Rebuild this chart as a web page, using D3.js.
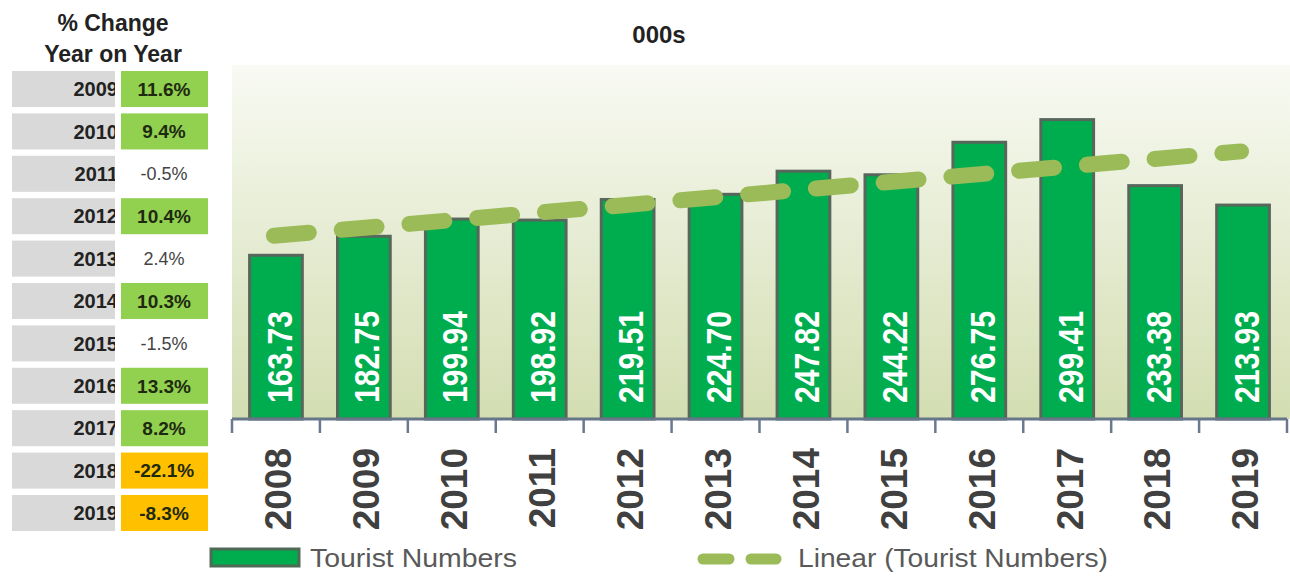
<!DOCTYPE html>
<html>
<head>
<meta charset="utf-8">
<script src="https://cdn.jsdelivr.net/npm/d3@7"></script>
<style>
  html, body { margin: 0; padding: 0; background: #fff; }
  svg { display: block; font-family: "Liberation Sans", Arial, sans-serif; }
</style>
</head>
<body>
<svg id="chart" width="1290" height="578"></svg>
<script>
// tourist numbers (000s)
var years = ["2008", "2009", "2010", "2011", "2012", "2013", "2014", "2015", "2016", "2017", "2018", "2019"];
var tourists = [163.73, 182.75, 199.94, 198.92, 219.51, 224.70, 247.82, 244.22, 276.75, 299.41, 233.38, 213.93];
// linear trend at first and last year
var trendYears = ["2008", "2019"];
var trendValues = [183.3, 267.6];
// % change year on year table
var changeYears = ["2009", "2010", "2011", "2012", "2013", "2014", "2015", "2016", "2017", "2018", "2019"];
var changePct = [11.6, 9.4, -0.5, 10.4, 2.4, 10.3, -1.5, 13.3, 8.2, -22.1, -8.3];

var svg = d3.select("#chart");

// ---------- left table ----------
var table = svg.append("g");
var rowScale = d3.scaleBand().domain(changeYears).range([71, 531]).paddingInner(0.15);

table.append("text")
    .attr("x", 113).attr("y", 31)
    .attr("text-anchor", "middle")
    .attr("font-weight", "bold").attr("font-size", 23)
    .attr("fill", "#222")
    .text("% Change");
table.append("text")
    .attr("x", 113).attr("y", 62)
    .attr("text-anchor", "middle")
    .attr("font-weight", "bold").attr("font-size", 23)
    .attr("fill", "#222")
    .text("Year on Year");

svg.append("clipPath").attr("id", "yearclip")
    .append("rect").attr("x", 12).attr("y", 60).attr("width", 103).attr("height", 480);

function cellColor(v) {
    if (v >= 5) return "#92d050";
    if (v <= -5) return "#ffc000";
    return "none";
}

var rowData = changeYears.map(function(y, i) { return {year: y, pct: changePct[i]}; });

// grey year cells
table.selectAll("rect.yr")
    .data(rowData)
    .enter().append("rect")
    .attr("class", "yr")
    .attr("x", 12).attr("width", 103)
    .attr("y", function(d) { return rowScale(d.year); })
    .attr("height", rowScale.bandwidth())
    .attr("fill", "#d9d9d9");
table.selectAll("text.yr")
    .data(rowData)
    .enter().append("text")
    .attr("class", "yr")
    .attr("x", 118)
    .attr("y", function(d) { return rowScale(d.year) + rowScale.bandwidth() / 2; })
    .attr("dy", "0.36em")
    .attr("text-anchor", "end")
    .attr("clip-path", "url(#yearclip)")
    .attr("font-weight", "bold").attr("font-size", 20)
    .attr("fill", "#222")
    .text(function(d) { return d.year; });

// % change cells
table.selectAll("rect.pc")
    .data(rowData)
    .enter().append("rect")
    .attr("class", "pc")
    .attr("x", 121).attr("width", 87)
    .attr("y", function(d) { return rowScale(d.year); })
    .attr("height", rowScale.bandwidth())
    .attr("fill", function(d) { return cellColor(d.pct); });
table.selectAll("text.pc")
    .data(rowData)
    .enter().append("text")
    .attr("class", "pc")
    .attr("x", 164)
    .attr("y", function(d) { return rowScale(d.year) + rowScale.bandwidth() / 2; })
    .attr("dy", "0.36em")
    .attr("text-anchor", "middle")
    .attr("font-weight", function(d) { return cellColor(d.pct) == "none" ? "normal" : "bold"; })
    .attr("font-size", function(d) { return cellColor(d.pct) == "none" ? 18 : 19; })
    .attr("fill", function(d) { return cellColor(d.pct) == "none" ? "#444" : "#1e2a10"; })
    .text(function(d) { return d.pct.toFixed(1) + "%"; });

// ---------- bar chart ----------
var x = d3.scaleBand().domain(years).range([232, 1287]).paddingInner(0.4).paddingOuter(0.2);
var y = d3.scaleLinear().domain([0, 354]).range([419, 65]);

var defs = svg.append("defs");
var grad = defs.append("linearGradient").attr("id", "plotbg")
    .attr("x1", 0).attr("y1", 0).attr("x2", 0).attr("y2", 1);
grad.append("stop").attr("offset", "0%").attr("stop-color", "#f8faf3");
grad.append("stop").attr("offset", "100%").attr("stop-color", "#d3ddb1");

svg.append("rect")
    .attr("x", 232).attr("y", y(354))
    .attr("width", 1290 - 232).attr("height", y(0) - y(354))
    .attr("fill", "url(#plotbg)");

svg.append("text")
    .attr("x", 659).attr("y", 43)
    .attr("text-anchor", "middle")
    .attr("font-weight", "bold").attr("font-size", 24)
    .attr("fill", "#222")
    .text("000s");

var bars = svg.append("g");
bars.selectAll("rect")
    .data(tourists)
    .enter().append("rect")
    .attr("x", function(d, i) { return x(years[i]); })
    .attr("y", function(d) { return y(d); })
    .attr("width", x.bandwidth())
    .attr("height", function(d) { return y(0) - y(d); })
    .attr("fill", "#00ad4e")
    .attr("stroke", "#57675c")
    .attr("stroke-width", 3);

// value labels, squeezed along the reading direction
bars.selectAll("text")
    .data(tourists)
    .enter().append("text")
    .attr("transform", function(d, i) {
        return "translate(" + (x(years[i]) + x.bandwidth() / 2 + 3) + "," + (y(0) - 16) + ") rotate(-90) scale(0.86,1)";
    })
    .attr("dy", "0.36em")
    .attr("text-anchor", "start")
    .attr("font-weight", "bold").attr("font-size", 35)
    .attr("fill", "#fff")
    .text(function(d) { return d.toFixed(2); });

// trend line
var trend = d3.line()
    .x(function(d, i) { return x(trendYears[i]) + x.bandwidth() / 2 - 2; })
    .y(function(d) { return y(d); });
svg.append("path")
    .attr("d", trend(trendValues))
    .attr("fill", "none")
    .attr("stroke", "#9bbb59")
    .attr("stroke-width", 16)
    .attr("stroke-linecap", "round")
    .attr("stroke-dasharray", "35 33");

// x axis
var axisG = svg.append("g").attr("transform", "translate(0," + y(0) + ")");
axisG.append("line")
    .attr("x1", 232).attr("x2", 1287)
    .attr("stroke", "#66778a").attr("stroke-width", 3);
axisG.selectAll("line.tick")
    .data(d3.range(years.length + 1))
    .enter().append("line")
    .attr("class", "tick")
    .attr("x1", function(i) { return x.range()[0] + i * x.step(); })
    .attr("x2", function(i) { return x.range()[0] + i * x.step(); })
    .attr("y1", 0).attr("y2", 14)
    .attr("stroke", "#6a7890").attr("stroke-width", 2.5);

var labels = svg.append("g")
    .attr("transform", "translate(0," + 448 + ")")
    .call(d3.axisBottom(x).tickSize(0));
labels.select(".domain").remove();
labels.selectAll("text")
    .attr("font-family", "'Liberation Sans', Arial, sans-serif")
    .attr("font-size", 37).attr("font-weight", "bold")
    .attr("fill", "#404040")
    .attr("text-anchor", "end")
    .attr("x", 0).attr("y", 0)
    .attr("dy", "0.36em")
    .attr("transform", "translate(2,0) rotate(-90)");

// legend
var legend = svg.append("g");
legend.append("rect")
    .attr("x", 211).attr("y", 549).attr("width", 88).attr("height", 17)
    .attr("fill", "#00ad4e").attr("stroke", "#4f6b55").attr("stroke-width", 3);
legend.append("text")
    .attr("x", 310).attr("y", 567)
    .attr("font-size", 26).attr("fill", "#595959")
    .attr("textLength", 207).attr("lengthAdjust", "spacingAndGlyphs")
    .text("Tourist Numbers");
legend.append("line")
    .attr("x1", 703).attr("x2", 776).attr("y1", 559).attr("y2", 559)
    .attr("stroke", "#9bbb59").attr("stroke-width", 11)
    .attr("stroke-linecap", "round")
    .attr("stroke-dasharray", "26 22");
legend.append("text")
    .attr("x", 798).attr("y", 567)
    .attr("font-size", 26).attr("fill", "#595959")
    .attr("textLength", 310).attr("lengthAdjust", "spacingAndGlyphs")
    .text("Linear (Tourist Numbers)");
</script>
</body>
</html>
